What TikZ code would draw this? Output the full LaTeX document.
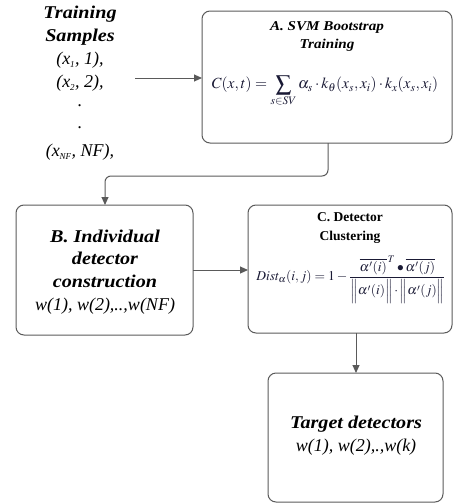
\documentclass[tikz,border=0pt]{standalone}
\usepackage{amsmath}
\usepackage{mathptmx}
\usepackage[no-math]{fontspec}
\setmainfont{Liberation Serif}[BoldItalicFeatures={FakeStretch=1.12}]
\usetikzlibrary{arrows.meta}
\definecolor{edge}{HTML}{5A5A5A}
\definecolor{formula}{HTML}{1A1A35}
\tikzset{
  stage/.style={draw=edge, line width=1pt, rounded corners=8pt},
  link/.style={draw=edge, line width=1pt, -{Triangle[length=8pt,width=7pt]}},
  head/.style={font=\fontsize{18}{22.7}\selectfont\bfseries\itshape, align=center, inner sep=0pt},
  plain/.style={font=\fontsize{18}{22.7}\selectfont\itshape, align=center, inner sep=0pt},
}
\newcommand{\sampx}[1]{x\textsubscript{\fontsize{9}{9}\selectfont #1}}
\begin{document}
\begin{tikzpicture}[x=1pt, y=-1pt]
\useasboundingbox (0,0) rectangle (457,504);

% stage boxes
\draw[stage] (202,11) rectangle (452,143);
\draw[stage] (16,205) rectangle (193,335);
\draw[stage] (248,205) rectangle (452,333);
\draw[stage] (268,373) rectangle (443,502);

\coordinate (Aw) at (202,78);
\coordinate (As) at (328,143);
\coordinate (Bn) at (105,205);
\coordinate (Be) at (193,270);
\coordinate (Cw) at (248,270);
\coordinate (Cs) at (356,333);
\coordinate (Dn) at (356,373);
\coordinate (Ts) at (135,78);

% training samples
\node[head] (ts1) at (80,14) {Training};
\node[head] (ts2) at (80,37) {Samples};
\node[plain] (ts3) at (80,60) {(\sampx{1}, 1),};
\node[plain] (ts4) at (80,83) {(\sampx{2}, 2),};
\node[plain] (ts5) at (80,106) {.};
\node[plain] (ts6) at (80,128) {.};
\node[plain] (ts7) at (80,152) {(\sampx{NF}, NF),};

% A: bootstrap training
\node[head, font=\fontsize{13.5}{18}\selectfont\bfseries\itshape] (a1) at (327,36) {A. SVM Bootstrap\\Training};
\node[text=formula, inner sep=0pt] (af) at (325,91) {\fontsize{15.5}{18}\selectfont $C(x,t)=\displaystyle\sum_{s\in SV}\alpha_s\cdot k_\theta(x_s,x_i)\cdot k_x(x_s,x_i)$};

% B: individual detectors
\node[head] (b1) at (105,272) {B. Individual\\detector\\construction\\\mdseries w(1), w(2),..,w(NF)};

% C: clustering
\node[head, font=\fontsize{13.5}{19.5}\selectfont\bfseries] (c1) at (350,228) {C. Detector\\Clustering};
\node[text=formula, inner sep=0pt] (cf) at (351,280) {\fontsize{13.5}{16}\selectfont $Dist_\alpha(i,j)=1-\dfrac{\overline{\alpha'(i)}^{\,T}\bullet\overline{\alpha'(j)}}{\Bigl\|\alpha'(i)\Bigr\|\cdot\Bigl\|\alpha'(j)\Bigr\|}$};

% D: target detectors
\node[head] (d1) at (356,436) {Target detectors\\\mdseries w(1), w(2),.,w(k)};

% connectors
\draw[link] (Ts) -- (Aw);
\draw[link, rounded corners=6pt] (As) -- (328,176) -- (105,176) -- (Bn);
\draw[link] (Be) -- (Cw);
\draw[link] (Cs) -- (Dn);
\end{tikzpicture}
\end{document}
